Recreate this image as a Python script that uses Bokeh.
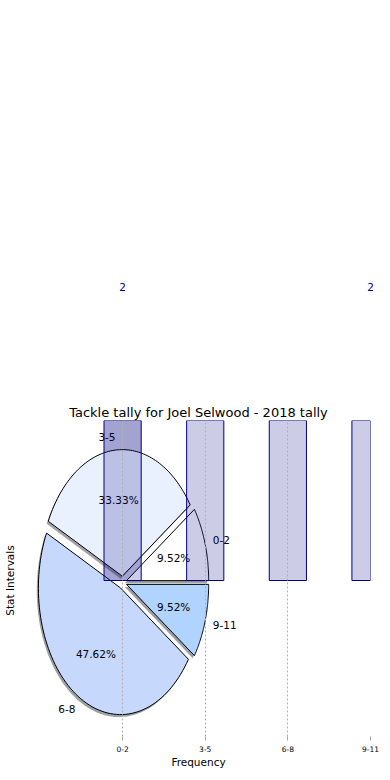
import numpy as np
from bokeh.plotting import figure
from bokeh.layouts import column
from bokeh.models import Range1d, FixedTicker
from bokeh.core.properties import value
from bokeh.embed import file_html
from bokeh.resources import INLINE

# ---- data ----
categories = ["0-2", "3-5", "6-8", "9-11"]
tallies = [2, 7, 10, 2]
pie_colors = ["#ffffff", "#eaf1fe", "#c6d9fd", "#b0d4ff"]
title = "Tackle tally for Joel Selwood - 2018 tally"

FONT = value("DejaVu Sans")
xs = list(range(len(categories)))

PX_PER_Y = 143.5          # pixels per y unit (shared by both panels)
X0, X1 = -1.163, 3.0
FRAME_W = 344
PX_PER_X = FRAME_W / (X1 - X0)
XR = Range1d(X0, X1)
TOP_H = 300               # height of the upper (label) panel
MAIN_TOP = 120            # border above main frame (title lives here)
EXTRA_R = 12              # upper panel reaches into the right border

# upper panel: continuation of the bar scale, holds the value labels
y_low_top = (MAIN_TOP + 160) / PX_PER_Y
y_high_top = y_low_top + TOP_H / PX_PER_Y
top = figure(frame_width=FRAME_W + EXTRA_R, frame_height=TOP_H,
             x_range=Range1d(X0, X1 + EXTRA_R / PX_PER_X),
             y_range=Range1d(y_low_top, y_high_top),
             output_backend="svg", toolbar_location=None,
             min_border_left=24, min_border_right=0,
             min_border_top=0, min_border_bottom=0)
top.outline_line_color = None
top.axis.visible = False
top.grid.visible = False
vis = [i for i, v in enumerate(tallies) if v < y_high_top]   # labels that fall on the page
top.text(x=[xs[i] for i in vis], y=[tallies[i] for i in vis],
         text=[str(tallies[i]) for i in vis], text_align="center",
         text_baseline="bottom", text_font=FONT, text_font_size="10.5px",
         text_color="navy", y_offset=-3)

p = figure(frame_width=FRAME_W, frame_height=320,
           x_range=XR, y_range=Range1d(-160 / PX_PER_Y, 160 / PX_PER_Y),
           output_backend="svg", toolbar_location=None,
           min_border_left=24, min_border_right=12,
           min_border_top=MAIN_TOP, min_border_bottom=32,
           title=title)
p.outline_line_color = None
p.title.align = "center"
p.title.text_font = "DejaVu Sans"
p.title.text_font_size = "13px"
p.title.text_font_style = "normal"
p.title.text_color = "#000000"
p.title.standoff = 2

# underlying first bar (drawn beneath pie)
p.vbar(x=[xs[0]], top=[tallies[0]], bottom=0, width=0.45,
       fill_color="navy", fill_alpha=0.2, line_color=None)

# ---- pie ----
RX, RY = 0.994, 0.882
CX, CY = 0.0, -0.014
EXPL = 0.05
SX, SY = -0.02 * RX, -0.02 * RY

vals = np.array(tallies, dtype=float)
frac = vals / vals.sum()
edges = np.concatenate([[0.0], np.cumsum(frac)]) * 2 * np.pi

wx, wy, sx, sy, scol = [], [], [], [], []
lab_l, lab_r, pct = [], [], []
for i in range(len(categories)):
    a0, a1 = edges[i], edges[i + 1]
    mid = (a0 + a1) / 2
    ox = CX + EXPL * RX * np.cos(mid)
    oy = CY + EXPL * RY * np.sin(mid)
    t = np.linspace(a0, a1, 80)
    px = [ox] + list(ox + RX * np.cos(t)) + [ox]
    py = [oy] + list(oy + RY * np.sin(t)) + [oy]
    wx.append(px); wy.append(py)
    sx.append([v + SX for v in px]); sy.append([v + SY for v in py])
    c = pie_colors[i].lstrip("#")
    rgb = [int(c[k:k + 2], 16) for k in (0, 2, 4)]
    scol.append("#%02x%02x%02x" % tuple(int(0.3 * v) for v in rgb))
    lx = ox + 1.1 * RX * np.cos(mid)
    ly = oy + 1.1 * RY * np.sin(mid)
    (lab_l if np.cos(mid) > 0 else lab_r).append((lx, ly, categories[i]))
    pct.append((ox + 0.6 * RX * np.cos(mid), oy + 0.6 * RY * np.sin(mid),
                "%.2f%%" % (100 * frac[i])))

p.patches(sx, sy, fill_color=scol, fill_alpha=0.5, line_color=None)
p.patches(wx, wy, fill_color=pie_colors, line_color="#000000", line_width=1)

for grp, align in ((lab_l, "left"), (lab_r, "right")):
    p.text(x=[g[0] for g in grp], y=[g[1] for g in grp], text=[g[2] for g in grp],
           text_align=align, text_baseline="middle", text_font=FONT,
           text_font_size="10.5px", text_color="#000000")
p.text(x=[g[0] for g in pct], y=[g[1] for g in pct], text=[g[2] for g in pct],
       text_align="center", text_baseline="middle", text_font=FONT,
       text_font_size="10.5px", text_color="#000000")

# ---- bars ----
p.vbar(x=xs, top=tallies, bottom=0, width=0.45,
       fill_color="navy", fill_alpha=0.2, line_color="navy", line_width=1)

# ---- axes / grid ----
p.xaxis.ticker = FixedTicker(ticks=xs)
p.xaxis.major_label_overrides = {i: c for i, c in enumerate(categories)}
p.xaxis.major_label_text_font = "DejaVu Sans"
p.xaxis.major_label_text_font_size = "7.5px"
p.xaxis.major_label_text_color = "#000000"
p.xaxis.axis_line_color = None
p.xaxis.major_tick_in = 4
p.xaxis.major_tick_out = 0
p.xaxis.major_tick_line_color = "#a0a0a0"
p.xaxis.minor_tick_line_color = None
p.xaxis.major_label_standoff = 5
p.xaxis.axis_label = "Frequency"
p.xaxis.axis_label_text_font = "DejaVu Sans"
p.xaxis.axis_label_text_font_size = "10.5px"
p.xaxis.axis_label_text_font_style = "normal"
p.xaxis.axis_label_text_color = "#000000"
p.xaxis.axis_label_standoff = 1

p.yaxis.ticker = FixedTicker(ticks=[])
p.yaxis.axis_line_color = None
p.yaxis.major_tick_out = 0
p.yaxis.major_tick_in = 0
p.yaxis.minor_tick_line_color = None
p.yaxis.major_label_standoff = 0
p.yaxis.axis_label = "Stat Intervals"
p.yaxis.axis_label_text_font = "DejaVu Sans"
p.yaxis.axis_label_text_font_size = "10.5px"
p.yaxis.axis_label_text_font_style = "normal"
p.yaxis.axis_label_text_color = "#000000"
p.yaxis.axis_label_standoff = 11

p.ygrid.visible = False
p.xgrid.ticker = FixedTicker(ticks=xs)
p.xgrid.grid_line_color = "#b0b0b0"
p.xgrid.grid_line_width = 1
p.xgrid.grid_line_dash = "2 2"
p.xgrid.level = "overlay"

open("out.html", "w").write(file_html(column(top, p), INLINE))
